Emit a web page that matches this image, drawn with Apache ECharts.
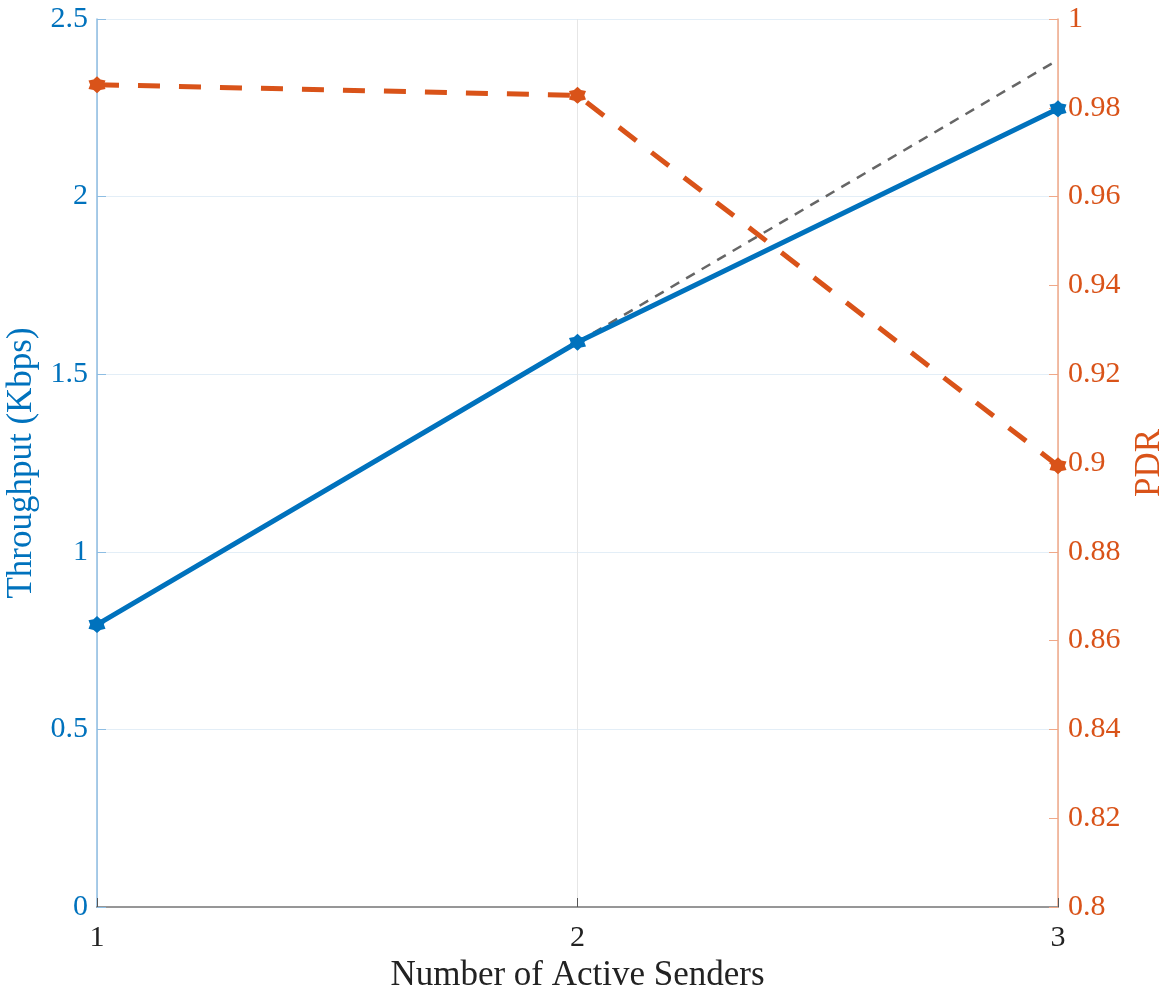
<!DOCTYPE html>
<html>
<head>
<meta charset="utf-8">
<script src="https://cdn.jsdelivr.net/npm/echarts@6/dist/echarts.min.js"></script>
<style>
  html, body { margin: 0; padding: 0; background: #fff; }
  #chart { width: 1173px; height: 994px; }
</style>
</head>
<body>
<div id="chart"></div>
<script>
// Number of active senders
const senders = [1, 2, 3];
// Measured throughput (Kbps)
const throughput = [0.795, 1.59, 2.247];
// Ideal linear scaling from the 2-sender point onward
const idealSenders = [2, 3];
const idealThroughput = [1.59, 2.385];
// Packet delivery ratio
const pdr = [0.9852, 0.9828, 0.8994];

const BLUE = '#0072BD';
const ORANGE = '#D95319';
const FONT = '"Liberation Serif", "Times New Roman", serif';

// six-pointed asterisk-like marker
const starPath = 'path://M0,-10 L3.6,-6.2 L8.66,-5 L7,0 L8.66,5 L3.6,6.2 L0,10 L-3.6,6.2 L-8.66,5 L-7,0 L-8.66,-5 L-3.6,-6.2 Z';

const chart = echarts.init(document.getElementById('chart'));
chart.setOption({
  animation: false,
  backgroundColor: '#fff',
  grid: { left: 97, right: 115, top: 19, bottom: 87, containLabel: false, outerBoundsMode: 'none' },
  xAxis: [{
    type: 'value', min: 1, max: 3, interval: 1,
    name: 'Number of Active Senders', nameLocation: 'middle', nameGap: 49,
    nameTextStyle: { fontFamily: FONT, fontSize: 35, color: '#222' },
    axisLine: { show: true, onZero: false, lineStyle: { color: '#555', width: 1.5 } },
    axisTick: { show: true, inside: true, length: 9, lineStyle: { color: '#555' } },
    axisLabel: { fontFamily: FONT, fontSize: 30, color: '#222', margin: 16 },
    splitLine: { show: true, lineStyle: { color: '#e6e6e6', width: 1 } }
  }, {
    type: 'value', min: 1, max: 3, interval: 1, position: 'top',
    axisLine: { show: true, lineStyle: { color: '#a0a0a0', width: 1.5 } },
    axisTick: { show: false }, axisLabel: { show: false }, splitLine: { show: false }
  }],
  yAxis: [{
    type: 'value', min: 0, max: 2.5, interval: 0.5, position: 'left',
    name: 'Throughput (Kbps)', nameLocation: 'middle', nameGap: 50, nameRotate: 90,
    nameTextStyle: { fontFamily: FONT, fontSize: 35, color: BLUE },
    axisLine: { show: true, onZero: false, lineStyle: { color: '#8dbde3', width: 1.5 } },
    axisTick: { show: true, inside: true, length: 9, lineStyle: { color: '#8dbde3' } },
    axisLabel: { fontFamily: FONT, fontSize: 30, color: BLUE, margin: 9 },
    splitLine: { show: true, lineStyle: { color: '#e3eef7', width: 1 } }
  }, {
    type: 'value', min: 0.8, max: 1.0, interval: 0.02, position: 'right',
    name: 'PDR', nameLocation: 'middle', nameGap: 74, nameRotate: 90,
    nameTextStyle: { fontFamily: FONT, fontSize: 35, color: ORANGE },
    axisLine: { show: true, onZero: false, lineStyle: { color: '#f0a888', width: 1.5 } },
    axisTick: { show: true, inside: true, length: 9, lineStyle: { color: '#f0a888' } },
    axisLabel: {
      fontFamily: FONT, fontSize: 30, color: ORANGE, margin: 10,
      formatter: v => String(parseFloat(v.toFixed(2)))
    },
    splitLine: { show: false }
  }],
  series: [{
    name: 'Ideal',
    type: 'line', xAxisIndex: 0, yAxisIndex: 0,
    data: idealSenders.map((s, i) => [s, idealThroughput[i]]),
    showSymbol: false, symbol: 'none',
    lineStyle: { color: '#666', width: 2.5, type: [10, 8] },
    z: 2
  }, {
    name: 'Throughput',
    type: 'line', xAxisIndex: 0, yAxisIndex: 0,
    data: senders.map((s, i) => [s, throughput[i]]),
    symbol: starPath, symbolSize: 17,
    itemStyle: { color: BLUE },
    lineStyle: { color: BLUE, width: 5 },
    z: 3
  }, {
    name: 'PDR',
    type: 'line', xAxisIndex: 0, yAxisIndex: 1,
    data: senders.map((s, i) => [s, pdr[i]]),
    symbol: starPath, symbolSize: 17,
    itemStyle: { color: ORANGE },
    lineStyle: { color: ORANGE, width: 5, type: [22, 19] },
    z: 4
  }]
});
</script>
</body>
</html>
